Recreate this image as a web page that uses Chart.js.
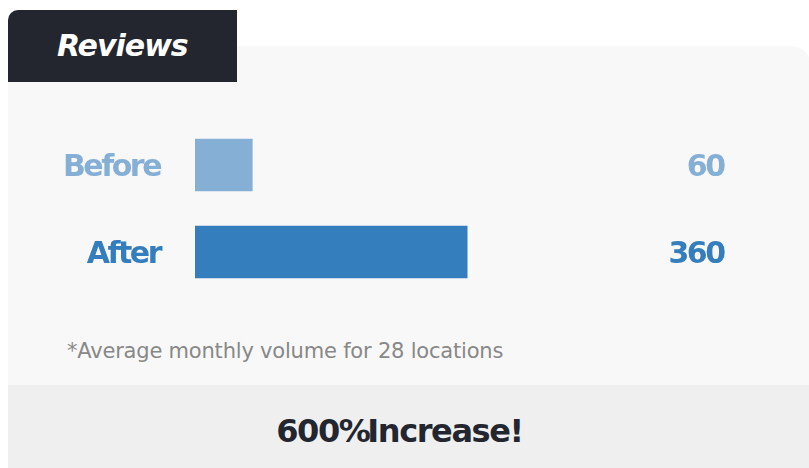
<!DOCTYPE html>
<html>
<head>
<meta charset="utf-8">
<script src="https://cdn.jsdelivr.net/npm/chart.js@4"></script>
<style>
  html, body { margin: 0; padding: 0; }
  body { width: 809px; height: 468px; background: #fff; position: relative; overflow: hidden; font-family: 'DejaVu Sans', sans-serif; }
  .panel { position: absolute; left: 8px; top: 46px; width: 803px; height: 422px; background: #f8f8f8; border-top-right-radius: 20px; }
  .band { position: absolute; left: 8px; top: 385px; width: 801px; height: 83px; background: #efefef; }
  .tab { position: absolute; left: 8px; top: 10px; width: 229px; height: 72px; background: #23262e; border-top-left-radius: 10px; }
  .tab span { position: absolute; left: 49px; top: 21px; color: #fff; font-size: 30px; line-height: 30px; font-weight: bold; font-style: italic; letter-spacing: -1px; }
  .note { position: absolute; left: 67px; top: 341px; font-size: 21px; line-height: 21px; color: #888; letter-spacing: -0.2px; white-space: nowrap; }
  .total { position: absolute; left: -5px; width: 809px; top: 415px; text-align: center; font-size: 32px; line-height: 32px; font-weight: bold; color: #23262e; letter-spacing: -1.4px; word-spacing: -12px; white-space: nowrap; }
  #chart { position: absolute; left: 0; top: 0; }
</style>
</head>
<body>
<div class="panel"></div>
<div class="band"></div>
<div class="tab"><span>Reviews</span></div>
<div class="note">*Average monthly volume for 28 locations</div>
<div class="total">600% Increase!</div>
<canvas id="chart" width="809" height="468"></canvas>
<script>
var categories = ['Before', 'After'];
var reviewCounts = [60, 360];
var valueLabels = ['60', '360'];

var barColors = ['#85afd5', '#357ebd'];
var labelFont = { family: 'DejaVu Sans', size: 30, weight: 'bold' };

// tight lettering like the original, and the numbers on the right
var valueText = {
    id: 'valueText',
    beforeDraw: function (chart) {
        chart.ctx.letterSpacing = '-2.5px';
    },
    afterDatasetsDraw: function (chart) {
        var ctx = chart.ctx;
        var bars = chart.getDatasetMeta(0).data;
        ctx.save();
        ctx.font = 'bold 30px "DejaVu Sans"';
        ctx.textAlign = 'right';
        ctx.textBaseline = 'middle';
        bars.forEach(function (bar, i) {
            ctx.fillStyle = barColors[i];
            ctx.fillText(valueLabels[i], chart.chartArea.right - 1.5, bar.y + 3.5);
        });
        ctx.restore();
    }
};

var ctx = document.getElementById('chart').getContext('2d');
var myChart = new Chart(ctx, {
    type: 'bar',
    data: {
        labels: categories,
        datasets: [{
            data: reviewCounts,
            base: -20,
            backgroundColor: barColors,
            borderWidth: 0,
            barThickness: 52
        }]
    },
    options: {
        indexAxis: 'y',
        responsive: false,
        animation: false,
        layout: {
            padding: { left: 0, right: 84, top: 121.5, bottom: 172.5 }
        },
        plugins: {
            legend: { display: false },
            tooltip: { enabled: false }
        },
        scales: {
            x: {
                display: false,
                min: -20,
                max: 720
            },
            y: {
                grid: { display: false },
                border: { display: false },
                ticks: {
                    font: labelFont,
                    padding: 27,
                    labelOffset: 3.5,
                    color: function (c) { return barColors[c.index]; }
                },
                afterFit: function (axis) { axis.width = 195; }
            }
        }
    },
    plugins: [valueText]
});
</script>
</body>
</html>
